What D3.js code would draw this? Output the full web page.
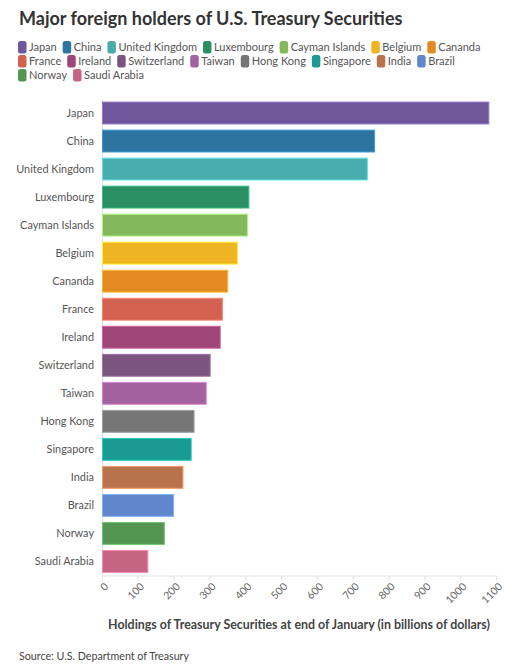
<!DOCTYPE html>
<meta charset="utf-8">
<style>
    body { margin: 0; background: #fff; font-family: Lato, sans-serif; }
    text { font-family: Lato, sans-serif; }
    .title { font-size: 18px; font-weight: bold; fill: #333; }
    .legend text { font-size: 11px; fill: #555; }
    .axis text { font-family: Lato, sans-serif; }
    .y-axis text { font-size: 10.9px; fill: #555; }
    .x-axis text { font-size: 10.5px; fill: #666; }
    .axis path, .axis line { stroke: #e2e2e2; }
    .x-title { font-size: 12.4px; font-weight: bold; fill: #444; }
    .source { font-size: 10.7px; fill: #444; }
</style>
<body>
<script src="https://cdn.jsdelivr.net/npm/d3@7"></script>
<script>

    var countries = ["Japan", "China", "United Kingdom", "Luxembourg", "Cayman Islands", "Belgium", "Cananda",
        "France", "Ireland", "Switzerland", "Taiwan", "Hong Kong", "Singapore", "India", "Brazil", "Norway", "Saudi Arabia"];

    var holdings = [1080, 761, 741, 410, 406, 378, 351, 336, 330, 302, 291, 257, 249, 226, 200, 174, 128];

    var colors = ["#6e579a", "#2e74a0", "#4aadad", "#2a8f63", "#84b85c", "#eeb422", "#e38a22",
        "#d36152", "#9e4677", "#7b5580", "#a461a0", "#767676", "#1b9a91", "#b8734d", "#6086cc", "#559553", "#c56483"];

    var xTicks = [0, 100, 200, 300, 400, 500, 600, 700, 800, 900, 1000, 1100];

    var width = 517, height = 664;
    var margin = {top: 99, right: 21, bottom: 88.5, left: 102};

    var svg = d3.select("body").append("svg")
            .attr("width", width)
            .attr("height", height);

    svg.append("text").attr("class", "title")
            .attr("x", 19).attr("y", 25)
            .text("Major foreign holders of U.S. Treasury Securities");

    // legend, wrapped into rows
    var legend = svg.append("g").attr("class", "legend");
    var lx = 18, ly = 41, rowH = 14;
    countries.forEach(function(c, i) {
        var g = legend.append("g");
        g.append("rect").attr("width", 8.5).attr("height", 12.5).attr("rx", 2.5)
                .attr("fill", colors[i]);
        var t = g.append("text").attr("x", 11).attr("y", 10.3).text(c);
        var w = 11 + t.node().getComputedTextLength();
        if (lx + w > 500) { lx = 18; ly += rowH; }
        g.attr("transform", "translate(" + lx + "," + ly + ")");
        lx += w + 6;
    });

    var x = d3.scaleLinear()
            .domain([0, 1100])
            .range([margin.left, width - margin.right]);

    var y = d3.scaleBand()
            .domain(countries)
            .range([margin.top, height - margin.bottom])
            .paddingInner(0.22)
            .paddingOuter(0.11);

    svg.append("g").attr("class", "axis x-axis")
            .attr("transform", "translate(0," + (height - margin.bottom) + ")")
            .call(d3.axisBottom(x).tickValues(xTicks).tickSize(5).tickSizeOuter(0).tickFormat(d3.format("d")))
            .selectAll("text")
            .attr("text-anchor", "end")
            .attr("y", 0).attr("dx", 0).attr("dy", "0.35em")
            .attr("transform", "translate(4,9) rotate(-45)");

    svg.append("g").attr("class", "axis y-axis")
            .attr("transform", "translate(" + margin.left + ",0)")
            .call(d3.axisLeft(y).tickSize(0).tickPadding(8));

    svg.selectAll("rect.bar").data(countries).enter()
            .append("rect")
            .attr("class", "bar")
            .attr("x", x(0) + 0.5)
            .attr("y", function(d) { return y(d); })
            .attr("width", function(d, i) { return x(holdings[i]) - x(0) - 0.5; })
            .attr("height", y.bandwidth())
            .attr("fill", function(d, i) { return colors[i]; })
            .attr("stroke", function(d, i) { return d3.color(colors[i]).brighter(0.8); })
            .attr("stroke-width", 1);

    svg.append("text").attr("class", "x-title")
            .attr("x", (x(0) + x(1100)) / 2).attr("y", 629)
            .attr("text-anchor", "middle")
            .text("Holdings of Treasury Securities at end of January (in billions of dollars)");

    svg.append("text").attr("class", "source")
            .attr("x", 19).attr("y", 660)
            .text("Source: U.S. Department of Treasury");

</script>
